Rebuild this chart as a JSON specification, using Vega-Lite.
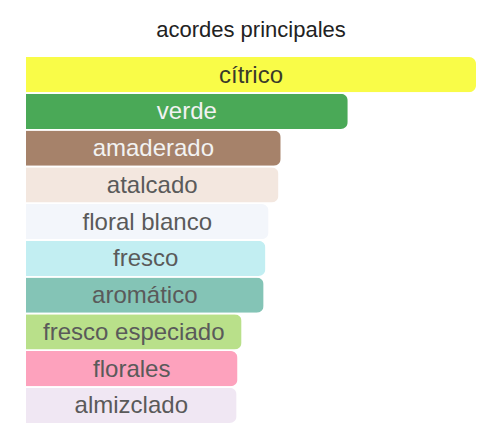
{
  "$schema": "https://vega.github.io/schema/vega-lite/v6.json",
  "width": 450,
  "height": 366,
  "padding": {"left": 26, "right": 24, "top": 19, "bottom": 22},
  "background": "white",
  "title": {
    "text": "acordes principales",
    "font": "Liberation Sans",
    "fontSize": 22,
    "fontWeight": "normal",
    "color": "#222222",
    "anchor": "middle",
    "offset": 15
  },
  "data": {
    "values": [
      {"acorde": "cítrico", "valor": 100},
      {"acorde": "verde", "valor": 71.5},
      {"acorde": "amaderado", "valor": 56.6},
      {"acorde": "atalcado", "valor": 56.1},
      {"acorde": "floral blanco", "valor": 53.9},
      {"acorde": "fresco", "valor": 53.2},
      {"acorde": "aromático", "valor": 52.8},
      {"acorde": "fresco especiado", "valor": 47.9},
      {"acorde": "florales", "valor": 47.0},
      {"acorde": "almizclado", "valor": 46.8}
    ]
  },
  "encoding": {
    "y": {
      "field": "acorde",
      "type": "nominal",
      "sort": null,
      "axis": null,
      "scale": {"paddingInner": 0.04, "paddingOuter": 0}
    }
  },
  "layer": [
    {
      "mark": {"type": "bar", "cornerRadiusEnd": 7},
      "encoding": {
        "x": {
          "field": "valor",
          "type": "quantitative",
          "axis": null,
          "scale": {"domain": [0, 100]}
        },
        "color": {
          "field": "acorde",
          "type": "nominal",
          "legend": null,
          "scale": {
            "domain": ["cítrico", "verde", "amaderado", "atalcado", "floral blanco", "fresco", "aromático", "fresco especiado", "florales", "almizclado"],
            "range": ["#f9fc48", "#4aa957", "#a6826a", "#f3e7df", "#f3f6fb", "#c2eef2", "#84c4b6", "#b9e08a", "#fda2bd", "#f0e7f3"]
          }
        }
      }
    },
    {
      "transform": [{"calculate": "datum.valor / 2", "as": "centro"}],
      "mark": {"type": "text", "font": "Liberation Sans", "fontSize": 24, "align": "center", "baseline": "middle", "dy": 1},
      "encoding": {
        "x": {"field": "centro", "type": "quantitative"},
        "text": {"field": "acorde"},
        "color": {
          "condition": [
            {"test": "datum.acorde === 'verde' || datum.acorde === 'amaderado'", "value": "#f2f2f2"},
            {"test": "datum.acorde === 'cítrico'", "value": "#3a3a2a"}
          ],
          "value": "#5a5a5a"
        }
      }
    }
  ],
  "config": {"view": {"stroke": null}}
}
